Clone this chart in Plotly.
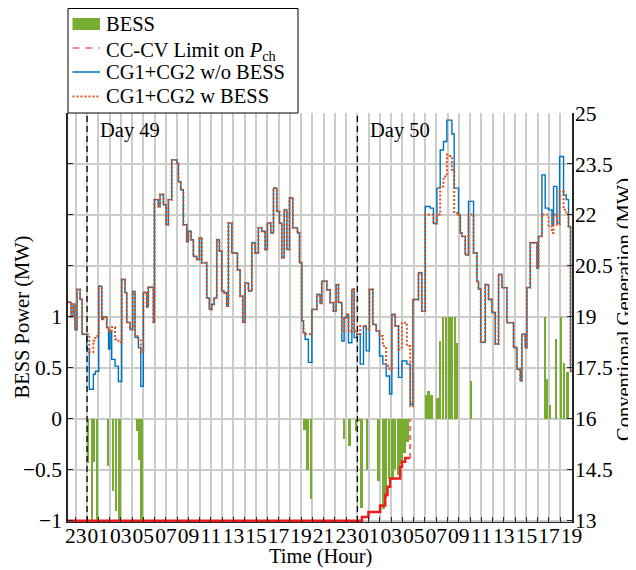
import plotly.graph_objects as go

# ---------------- data (hours relative to Day 49 00:00) ----------------
step_t = [-1.69, -1.42, -1.24, -1.07, -0.89, -0.62, -0.44, -0.03, 0.2, 0.56, 0.74, 1.04, 1.31, 1.45, 1.75,
          1.91, 2.04, 2.19, 2.49, 2.78, 3.08, 3.37, 3.53, 3.82, 4.06, 4.26, 4.56, 4.77, 5.0, 5.3,
          5.44, 5.89, 5.98, 6.33, 6.48, 6.78, 7.02, 7.22, 7.52, 7.97, 8.11, 8.32, 8.55, 8.85, 9.0,
          9.24, 9.44, 9.74, 9.97, 10.18, 10.63, 10.86, 11.07, 11.28, 11.52, 11.75, 11.96, 12.17, 12.4, 12.55,
          12.85, 13.35, 13.59, 13.83, 14.03, 14.33, 14.63, 14.92, 15.21, 15.51, 15.81, 16.01, 16.31, 16.55, 16.85,
          17.08, 17.29, 17.5, 17.74, 17.97, 18.27, 18.68, 18.86, 19.07, 19.21, 19.36, 19.65, 19.96, 20.4, 20.69,
          20.84, 21.29, 21.58, 21.87, 22.11, 22.32, 22.62, 22.82, 23.06, 23.21, 23.51, 23.71, 23.95, 24.25, 24.54,
          24.78, 25.07, 25.37, 25.67, 25.96, 26.26, 26.55, 26.85, 27.06, 27.35, 27.65, 27.95, 28.39, 28.69, 28.93,
          29.42, 29.72, 30.02, 30.46, 30.75, 31.06, 31.35, 31.64, 31.94, 32.24, 32.39, 32.59, 32.98, 33.13, 33.28,
          33.57, 33.86, 34.31, 34.61, 34.75, 34.95, 35.35, 35.64, 35.94, 36.24, 36.53, 36.83, 37.27, 37.86, 38.16,
          38.46, 38.6, 38.9, 39.05, 39.34, 39.94, 40.08, 40.38, 40.67, 40.97, 41.27, 41.41, 41.71, 41.95, 42.3,
          42.54, 42.74, 42.92, 43.05]

gen_without_bess = [19.43, 19.0, 19.37, 18.63, 19.81, 19.51, 18.49, 18.05, 16.87, 17.31, 17.4, 19.9, 18.93, 19.0, 18.69,
                    18.05, 18.55, 17.75, 17.55, 17.1, 20.1, 19.72, 18.84, 18.63, 19.75, 18.4, 18.1, 16.96, 19.72, 19.3,
                    19.87, 18.84, 22.45, 22.25, 22.6, 22.3, 21.71, 22.45, 23.62, 23.52, 22.98, 22.74, 21.71, 21.22, 21.52,
                    21.27, 20.78, 20.69, 21.32, 20.59, 19.56, 19.22, 19.37, 19.56, 21.27, 20.93, 19.76, 19.71, 19.32, 21.76,
                    20.88, 20.39, 19.61, 18.84, 20.0, 19.76, 21.18, 20.88, 21.62, 21.52, 20.98, 21.76, 21.47, 22.79, 22.1,
                    21.76, 20.74, 22.15, 20.98, 22.5, 21.62, 21.47, 20.59, 18.88, 18.54, 18.34, 17.66, 19.22, 19.66, 19.4,
                    20.05, 19.8, 19.42, 19.17, 19.95, 19.42, 18.29, 18.98, 19.07, 18.24, 19.81, 18.39, 18.49, 17.61, 18.73,
                    18.0, 19.81, 18.78, 18.58, 17.85, 17.61, 17.26, 16.73, 19.07, 18.73, 17.22, 17.7, 17.61, 16.43, 19.51,
                    20.3, 19.17, 22.25, 22.2, 21.75, 22.79, 23.91, 24.16, 24.79, 24.79, 24.38, 22.79, 22.0, 21.47, 21.37,
                    20.83, 22.4, 20.88, 20.05, 19.81, 18.25, 19.95, 19.51, 19.13, 18.2, 20.25, 19.86, 18.83, 18.1, 17.46,
                    17.12, 18.49, 18.1, 19.86, 21.18, 20.44, 21.37, 23.18, 22.2, 22.15, 21.71, 22.84, 21.76, 23.72, 22.59,
                    22.45, 21.66, 17.4, 17.4]

gen_with_bess = [19.43, 19.0, 19.37, 18.63, 19.81, 19.51, 18.49, 18.49, 17.96, 18.3, 18.44, 19.9, 18.93, 19.0, 18.69,
                 18.6, 18.55, 18.7, 18.34, 18.25, 20.1, 19.72, 18.84, 18.63, 19.75, 18.44, 18.34, 17.96, 19.72, 19.3,
                 19.87, 18.84, 22.45, 22.25, 22.6, 22.3, 21.71, 22.45, 23.62, 23.52, 22.98, 22.74, 21.71, 21.22, 21.52,
                 21.27, 20.78, 20.69, 21.32, 20.59, 19.56, 19.22, 19.37, 19.56, 21.27, 20.93, 19.76, 19.71, 19.32, 21.76,
                 20.88, 20.39, 19.61, 18.84, 20.0, 19.76, 21.18, 20.88, 21.62, 21.52, 20.98, 21.76, 21.47, 22.79, 22.1,
                 21.76, 20.74, 22.15, 20.98, 22.5, 21.62, 21.47, 20.59, 18.88, 18.54, 18.49, 18.49, 19.22, 19.66, 19.4,
                 20.05, 19.8, 19.42, 19.17, 19.95, 19.42, 18.58, 18.98, 19.07, 18.58, 19.81, 18.58, 18.49, 18.73, 18.73,
                 18.63, 19.81, 18.78, 18.58, 18.44, 18.14, 17.56, 17.46, 19.07, 18.73, 18.05, 18.83, 18.14, 16.37, 19.51,
                 20.3, 19.17, 22.01, 22.01, 21.75, 22.01, 22.84, 23.13, 23.77, 23.67, 23.33, 22.05, 22.0, 21.47, 21.37,
                 20.83, 22.01, 20.88, 20.05, 19.81, 18.25, 19.95, 19.51, 19.13, 18.2, 20.25, 19.86, 18.83, 18.1, 17.46,
                 17.12, 18.49, 18.1, 19.86, 21.18, 20.44, 21.37, 22.01, 22.01, 21.66, 21.47, 22.01, 21.71, 22.69, 22.15,
                 22.01, 21.66, 17.4, 17.4]

bess_t = [0.12, 0.44, 0.62, 0.89, 1.87, 2.35, 2.58, 2.89, 4.44, 4.62, 4.84,
          19.33, 19.6, 19.88, 22.82, 23.31, 23.89, 24.16, 24.4, 24.87, 25.9, 26.35, 26.58, 26.85, 27.15,
          27.38, 27.68, 27.95, 28.22, 28.48,
          30.1, 30.33, 30.6, 31.13, 31.35, 31.6, 31.88, 32.15, 32.39, 32.66, 32.86, 34.1,
          40.67, 40.85, 41.12, 41.65, 42.1, 42.36, 42.67]
bess_power = [-0.43, -1.0, -0.42, -1.0, -0.46, -0.71, -0.90, -1.0, -0.12, -0.40, -1.0,
              -0.11, -0.50, -0.79, -0.20, -0.27, -0.12, -0.02, -0.87, -0.50, -0.61, -0.88, -0.78, -0.59, -0.60,
              -0.49, -0.55, -0.44, -0.34, -0.23,
              0.23, 0.27, 0.23, 0.20, 0.76, 1.0, 1.0, 1.0, 1.0, 1.0, 0.74, 0.37,
              1.0, 0.39, 0.14, 0.78, 1.0, 0.55, 0.46]

limit_t = [-1.69, 24.4, 24.98, 26.02, 26.47, 26.67, 26.91, 27.8, 27.95, 28.24, 28.68]
limit_p = [-1.0, -0.963, -0.915, -0.85, -0.747, -0.665, -0.585, -0.47, -0.42, -0.385, 0.0]

hour_ticks = list(range(-1, 44))
hour_labels = [f"{h % 24:02d}" if h % 2 == 1 else "" for h in hour_ticks]
left_ticks = [-1, -0.5, 0, 0.5, 1, 1.5, 2, 2.5, 3]
left_labels = ["\u22121", "\u22120.5", "0", "0.5", "1", "", "", "", ""]
right_ticks = [13, 14.5, 16, 17.5, 19, 20.5, 22, 23.5, 25]
right_labels = ["13", "14.5", "16", "17.5", "19", "20.5", "22", "23.5", "25"]
day_starts = [0, 24]
day_names = ["Day 49", "Day 50"]
legend_names = ["BESS", "CC-CV Limit on <i>P</i><sub>ch</sub>", "CG1+CG2 w/o BESS", "CG1+CG2 w BESS"]

# ---------------- styling ----------------
FONT = "Liberation Serif"
GREEN = "#77AC30"
BLUE = "#0072BD"
ORANGE = "#D95319"
RED = "#EE1C1C"
LIMIT_LEG = "#F06A6A"
GRID = "#CCCCCC"
AX = "#262626"
TXT = 20.5
TICK = 21.5

# the page body adds an 8 px offset; figure coordinates are laid out accordingly
OFF = 8
W, H = 636 - OFF, 570 - OFF
L, R, T, B = 68 - OFF, 572 - OFF, 113 - OFF, 522 - OFF
def px_x(p): return (p - OFF - L) / (R - L)   # p given in screenshot pixels
def px_y(p): return (B - (p - OFF)) / (B - T)

fig = go.Figure()

fig.add_trace(go.Bar(x=bess_t, y=bess_power, width=0.17, marker=dict(color=GREEN, line=dict(width=0)),
                     name=legend_names[0], showlegend=False, yaxis="y"))
# CC-CV limit: solid stairs, with the final release step drawn dashed
fig.add_trace(go.Scatter(x=limit_t, y=limit_p[:-1] + [limit_p[-2]], mode="lines",
                         line=dict(color=RED, width=2.5, shape="hv"),
                         name="CC-CV Limit", showlegend=False, yaxis="y"))
fig.add_trace(go.Scatter(x=limit_t[-1:] * 2, y=limit_p[-2:], mode="lines",
                         line=dict(color=LIMIT_LEG, width=2, dash="5px,4px"),
                         name="CC-CV Limit", showlegend=False, yaxis="y"))
fig.add_trace(go.Scatter(x=step_t, y=gen_without_bess, mode="lines", name="CG1+CG2 w/o BESS",
                         line=dict(color=BLUE, width=1.4, shape="hv"), showlegend=False, yaxis="y2"))
fig.add_trace(go.Scatter(x=step_t, y=gen_with_bess, mode="lines", name="CG1+CG2 w BESS",
                         line=dict(color=ORANGE, width=2, shape="hv", dash="2px,2px"), showlegend=False,
                         yaxis="y2"))

shapes = []
for d in day_starts:
    shapes.append(dict(type="line", xref="x", yref="paper", x0=d, x1=d, y0=0, y1=1,
                       line=dict(color="black", width=1.3, dash="6px,4px")))

# legend box and glyphs (positions in screenshot pixels)
shapes.append(dict(type="rect", xref="paper", yref="paper", x0=px_x(68), x1=px_x(298), y0=px_y(113), y1=px_y(8.5),
                   fillcolor="white", line=dict(color="black", width=1), layer="above"))
row_y = [24, 48, 72, 96.5]
gx0, gx1 = px_x(72.5), px_x(100)
shapes.append(dict(type="rect", xref="paper", yref="paper", x0=gx0, x1=gx1, y0=px_y(row_y[0] + 6),
                   y1=px_y(row_y[0] - 6), fillcolor=GREEN, line=dict(width=0), layer="above"))
shapes.append(dict(type="line", xref="paper", yref="paper", x0=gx0, x1=gx1, y0=px_y(row_y[1]), y1=px_y(row_y[1]),
                   line=dict(color=LIMIT_LEG, width=1.5, dash="7px,6px"), layer="above"))
shapes.append(dict(type="line", xref="paper", yref="paper", x0=gx0, x1=gx1, y0=px_y(row_y[2]), y1=px_y(row_y[2]),
                   line=dict(color=BLUE, width=1.5), layer="above"))
shapes.append(dict(type="line", xref="paper", yref="paper", x0=gx0, x1=gx1, y0=px_y(row_y[3]), y1=px_y(row_y[3]),
                   line=dict(color=ORANGE, width=2, dash="2px,2px"), layer="above"))

annotations = []
for name, ry in zip(legend_names, row_y):
    annotations.append(dict(x=px_x(104), y=px_y(ry + (4 if "sub" in name else 0)), xref="paper", yref="paper",
                            text=name, showarrow=False, xanchor="left", yanchor="middle",
                            font=dict(size=TXT, family=FONT, color="black")))
for d, name in zip(day_starts, day_names):
    annotations.append(dict(x=d + 0.95, y=px_y(130), xref="x", yref="paper", text=name, showarrow=False,
                            xanchor="left", yanchor="middle", font=dict(size=TXT, family=FONT, color="black")))
annotations.append(dict(x=px_x(22), y=0.5, xref="paper", yref="paper", text="BESS Power (MW)", textangle=-90,
                        showarrow=False, xanchor="center", yanchor="middle",
                        font=dict(size=TXT, family=FONT, color="black")))
annotations.append(dict(x=px_x(624), y=px_y(310), xref="paper", yref="paper", text="Conventional Generation (MW)",
                        textangle=-90, showarrow=False, xanchor="center", yanchor="middle",
                        font=dict(size=TXT, family=FONT, color="black")))
annotations.append(dict(x=0.5, y=px_y(556), xref="paper", yref="paper", text="Time (Hour)", showarrow=False,
                        xanchor="center", yanchor="middle", font=dict(size=TXT, family=FONT, color="black")))

fig.update_layout(
    width=W, height=H,
    margin=dict(l=L, r=W - R, t=T, b=H - B, autoexpand=False),
    paper_bgcolor="white", plot_bgcolor="white",
    font=dict(family=FONT, size=TXT, color="black"),
    bargap=0,
    showlegend=False,
    shapes=shapes,
    annotations=annotations,
    xaxis=dict(range=[-1.69, 43.05], tickmode="array", tickvals=hour_ticks, ticktext=hour_labels,
               showgrid=True, gridcolor=GRID, gridwidth=1.5, ticks="inside", ticklen=5, tickcolor=AX,
               showline=True, linecolor=AX, linewidth=1, zeroline=False, tickangle=0,
               ticklabelstandoff=-6, tickfont=dict(size=TICK, family=FONT, color="black")),
    yaxis=dict(range=[-1.012, 3.0], tickmode="array", tickvals=left_ticks, ticktext=left_labels,
               showgrid=True, gridcolor=GRID, gridwidth=1.5, ticks="inside", ticklen=5, tickcolor=AX,
               showline=True, linecolor=AX, linewidth=1.5, zeroline=False,
               tickfont=dict(size=TICK, family=FONT, color="black")),
    yaxis2=dict(range=[12.964, 25.0], overlaying="y", side="right", tickmode="array",
                tickvals=right_ticks, ticktext=right_labels, showgrid=False, ticks="inside", ticklen=5,
                tickcolor=AX, showline=True, linecolor=AX, linewidth=1.5, zeroline=False,
                ticklabelstandoff=-3, tickfont=dict(size=TICK, family=FONT, color="black")),
)

fig.write_html("out.html")
